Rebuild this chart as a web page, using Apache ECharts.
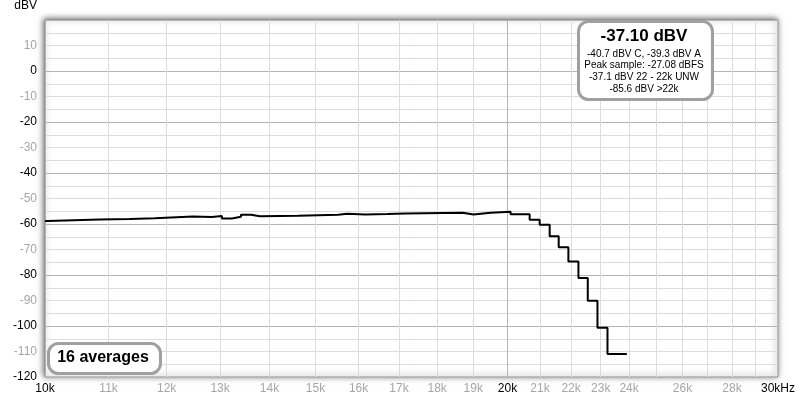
<!DOCTYPE html>
<html>
<head>
<meta charset="utf-8">
<script src="https://cdn.jsdelivr.net/npm/echarts@6/dist/echarts.min.js"></script>
<style>
html,body{margin:0;padding:0;background:#fff;}
#chart{width:800px;height:400px;}
</style>
</head>
<body>
<div id="chart"></div>
<script>
// ---- data ----
const freqs = [10000, 10040, 10853, 11354, 11789, 12481, 12842, 13036, 13234, 13414, 13617, 13802, 14614, 15516, 15728, 16159, 16706, 17164, 18697, 19009, 19500, 20094, 20676, 20988, 21306, 21596, 21912, 22244, 22558, 22888, 23234, 23918];
const levels = [-58.8, -58.2, -58.0, -57.7, -57.1, -57.3, -56.9, -57.8, -57.2, -56.4, -57.0, -56.8, -56.4, -56.0, -56.3, -56.1, -55.9, -55.6, -56.3, -55.6, -55.2, -56.2, -58.3, -60.3, -64.8, -69.1, -74.7, -81.2, -90.1, -100.7, -111.0, -111.0];
const xGridValues = [10000, 11000, 12000, 13000, 14000, 15000, 16000, 17000, 18000, 19000, 20000, 21000, 22000, 23000, 24000, 25000, 26000, 27000, 28000, 29000, 30000];
const xGrayLabelValues = [11000, 12000, 13000, 14000, 15000, 16000, 17000, 18000, 19000, 21000, 22000, 23000, 24000, 26000, 28000];
const xDarkLabelValues = [10000, 20000, 30000];
const yDarkLabelValues = [0, -20, -40, -60, -80, -100, -120];
const yGrayLabelValues = [10, -10, -30, -50, -70, -90, -110];
const yAxisName = 'dBV';
const readoutTitle = '-37.10 dBV';
const readoutLines = ['-40.7 dBV C, -39.3 dBV A', 'Peak sample: -27.08 dBFS', '-37.1 dBV 22 - 22k UNW', '-85.6 dBV >22k'];
const averagesText = '16 averages';

const seriesData = freqs.map((f, i) => [f, levels[i]]);
const FONT = 'Liberation Sans, Arial, sans-serif';
const DARK = '#b4b4b4', LIGHT = '#dcdcdc';
const BLACK_TXT = '#000000', GRAY_TXT = '#a6a6a6';
const xLineColors = [DARK, LIGHT, LIGHT, LIGHT, LIGHT, LIGHT, LIGHT, LIGHT, LIGHT, LIGHT];
const xFmt = v => { const r = Math.round(v); return r === 30000 ? '30kHz' : Math.round(r / 1000) + 'k'; };
const yFmt = list => v => (list.indexOf(Math.round(v)) >= 0 ? String(Math.round(v)) : '');

const xBase = {type: 'log', logBase: 10, min: 10000, max: 30000, axisLine: {show: false}};
const yBase = {type: 'value', min: -120, max: 20, interval: 10, axisLine: {show: false}, axisTick: {show: false}};

const chart = echarts.init(document.getElementById('chart'), null, {renderer: 'canvas'});
chart.setOption({
  animation: false,
  backgroundColor: '#ffffff',
  grid: {
    left: 45, right: 22, top: 18, bottom: 23,
    show: true, backgroundColor: '#ffffff',
    borderColor: '#8c8c8c', borderWidth: 1,
    shadowBlur: 6, shadowColor: 'rgba(0,0,0,0.6)', shadowOffsetX: -1, shadowOffsetY: -1
  },
  xAxis: [
    Object.assign({}, xBase, {
      axisTick: {show: false, customValues: xGridValues},
      axisLabel: {customValues: xGrayLabelValues, margin: 6, fontSize: 12, fontFamily: FONT, color: GRAY_TXT, formatter: xFmt},
      splitLine: {show: true, lineStyle: {color: xLineColors, width: 1}}
    }),
    Object.assign({}, xBase, {
      position: 'bottom',
      axisTick: {show: false, customValues: xDarkLabelValues},
      axisLabel: {customValues: xDarkLabelValues, margin: 6, fontSize: 12, fontFamily: FONT, color: BLACK_TXT, formatter: xFmt},
      splitLine: {show: false}
    })
  ],
  yAxis: [
    Object.assign({}, yBase, {
      name: yAxisName, nameLocation: 'end', nameGap: 8,
      nameTextStyle: {align: 'right', color: BLACK_TXT, fontSize: 12, fontFamily: FONT, padding: [0, 8, 0, 0]},
      axisLabel: {margin: 8, fontSize: 12, fontFamily: FONT, color: GRAY_TXT, formatter: yFmt(yGrayLabelValues)},
      splitLine: {show: true, lineStyle: {color: [DARK, LIGHT], width: 1}},
      minorTick: {show: false, splitNumber: 2},
      minorSplitLine: {show: true, lineStyle: {color: LIGHT, width: 1}}
    }),
    Object.assign({}, yBase, {
      position: 'left',
      axisLabel: {margin: 8, fontSize: 12, fontFamily: FONT, color: BLACK_TXT, formatter: yFmt(yDarkLabelValues)},
      splitLine: {show: false}
    })
  ],
  series: [{
    type: 'line',
    xAxisIndex: 0, yAxisIndex: 0,
    data: seriesData,
    step: 'end',
    symbol: 'none',
    lineStyle: {color: '#000', width: 2},
    z: 5
  }],
  graphic: [
    {type: 'rect', left: 577, top: 20, z: 100, zlevel: 1,
     shape: {width: 134, height: 78, r: 10},
     style: {fill: '#fff', stroke: '#a0a0a0', lineWidth: 3}},
    {type: 'text', x: 644, y: 36, z: 101, zlevel: 1,
     style: {text: readoutTitle, align: 'center', verticalAlign: 'middle', font: 'bold 17px ' + FONT, fill: '#000'}},
    {type: 'text', x: 644, y: 54.5, z: 101, zlevel: 1,
     style: {text: readoutLines[0], align: 'center', verticalAlign: 'middle', font: '10px ' + FONT, fill: '#000'}},
    {type: 'text', x: 644, y: 65.5, z: 101, zlevel: 1,
     style: {text: readoutLines[1], align: 'center', verticalAlign: 'middle', font: '10px ' + FONT, fill: '#000'}},
    {type: 'text', x: 644, y: 77, z: 101, zlevel: 1,
     style: {text: readoutLines[2], align: 'center', verticalAlign: 'middle', font: '10px ' + FONT, fill: '#000'}},
    {type: 'text', x: 644, y: 89, z: 101, zlevel: 1,
     style: {text: readoutLines[3], align: 'center', verticalAlign: 'middle', font: '10px ' + FONT, fill: '#000'}},
    {type: 'rect', left: 47, top: 342, z: 100, zlevel: 1,
     shape: {width: 112, height: 30, r: 10},
     style: {fill: '#fff', stroke: '#a0a0a0', lineWidth: 3}},
    {type: 'text', x: 103, y: 358, z: 101, zlevel: 1,
     style: {text: averagesText, align: 'center', verticalAlign: 'middle', font: 'bold 16px ' + FONT, fill: '#000'}}
  ]
});
</script>
</body>
</html>
